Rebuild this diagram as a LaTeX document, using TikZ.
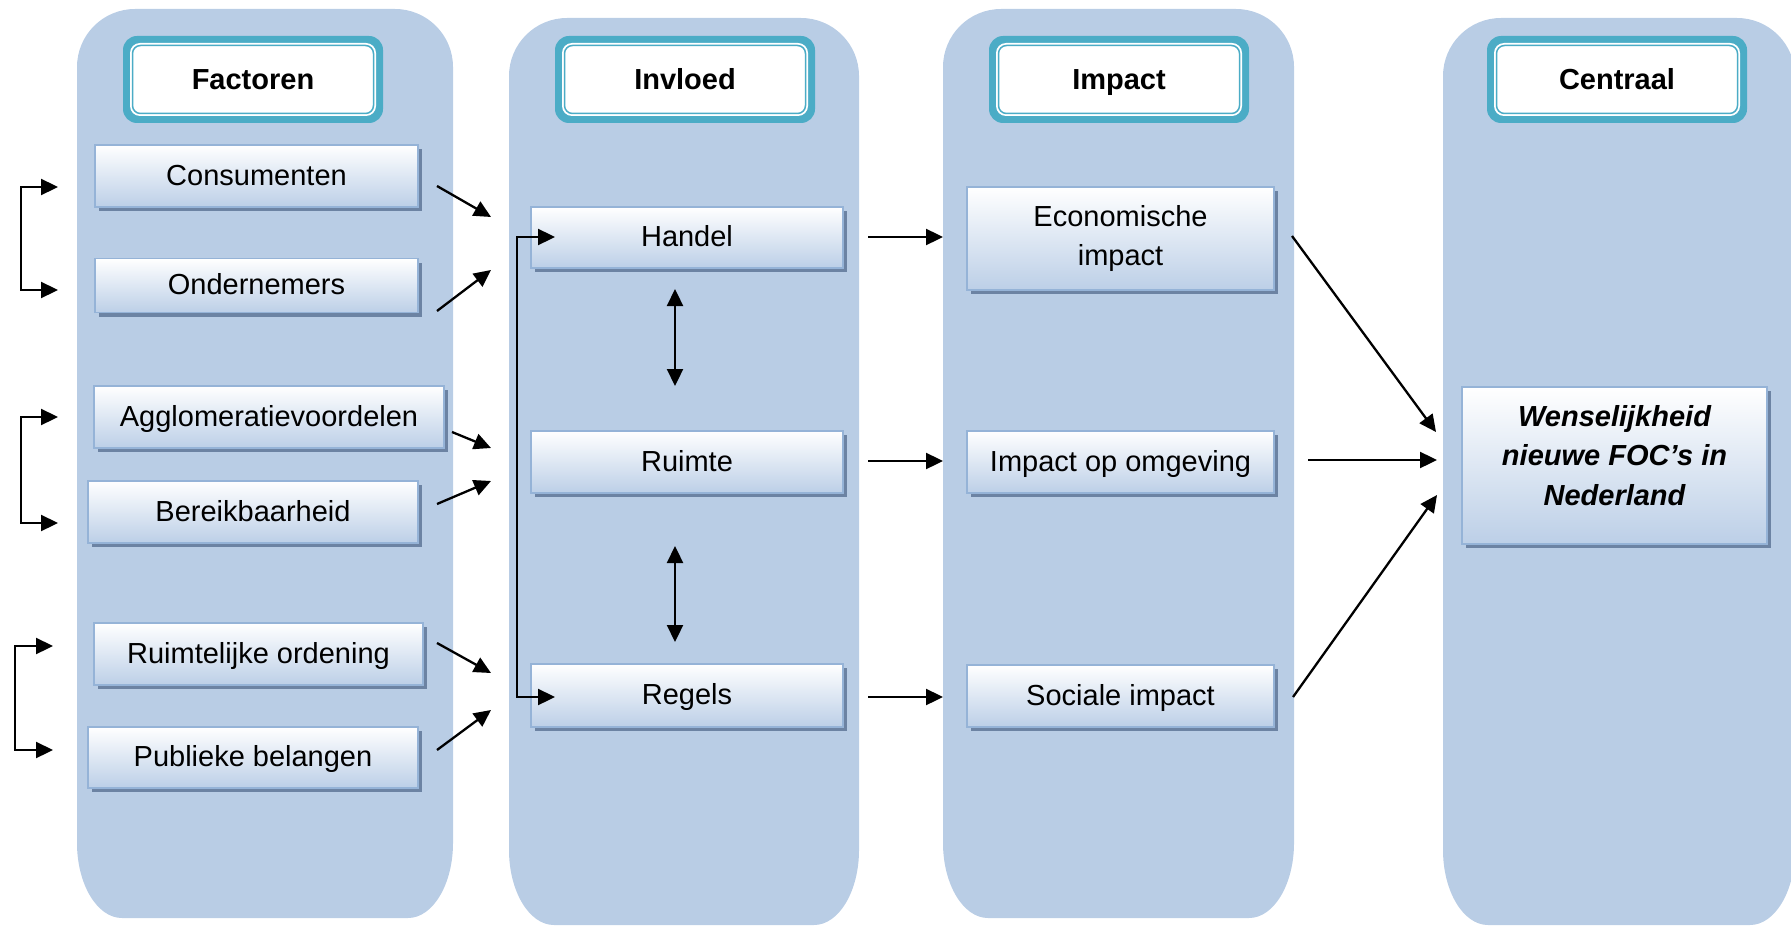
\documentclass[tikz,border=0pt]{standalone}
\usepackage{fontspec}
\setmainfont{Liberation Sans}
\usetikzlibrary{arrows.meta,shadows,calc}
\definecolor{colbg}{RGB}{185,205,229}
\definecolor{headteal}{RGB}{75,172,198}
\definecolor{boxborder}{RGB}{149,179,215}
\definecolor{boxbot}{RGB}{188,207,231}
\definecolor{shadowcol}{RGB}{108,131,163}
\newcommand\colshape[4]{%
 \fill[colbg] (#1,#2+58) .. controls (#1,#2+26) and (#1+26,#2) .. (#1+58,#2) -- (#3-58,#2)
   .. controls (#3-26,#2) and (#3,#2+26) .. (#3,#2+58) -- (#3,#4-75)
   .. controls (#3,#4-34) and (#3-20,#4) .. (#3-45,#4) -- (#1+45,#4)
   .. controls (#1+20,#4) and (#1,#4-34) .. (#1,#4-75) -- cycle;}
\newcommand\headerbox[3]{%
 \fill[headteal, rounded corners=7pt] (#2-130,36) rectangle (#2+130,123);
 \fill[white, rounded corners=5pt] (#2-123,43) rectangle (#2+123,116);
 \node[headbox] (#1) at (#2,79.5) {#3};}
\begin{document}
\begin{tikzpicture}[x=0.5pt,y=-0.5pt,
  txt/.style={font=\fontsize{14.5}{19.8}\selectfont},
  headbox/.style={font=\fontsize{14.5}{19.8}\selectfont\bfseries, rectangle, draw=headteal, line width=0.75pt,
     fill=white, rounded corners=4pt, minimum width=120.5pt, minimum height=34pt, inner sep=0pt,
     text height=10.5pt, text depth=0pt},
  bodybox/.style={txt, rectangle, draw=boxborder, line width=0.8pt, top color=white, bottom color=boxbot,
     drop shadow={shadow xshift=2pt, shadow yshift=-2pt, fill=shadowcol, opacity=1},
     inner sep=2pt, align=center},
  sbox/.style={bodybox, text height=10.5pt, text depth=1.5pt},
  conn/.style={line width=1.15pt, -{Triangle[length=8.5pt,width=8pt]}},
  dconn/.style={line width=1.15pt, {Triangle[length=8.5pt,width=8pt]}-{Triangle[length=8.5pt,width=8pt]}},
]
\useasboundingbox (0,0) rectangle (1791,925);

% columns
\colshape{77}{9}{453}{918}
\colshape{509}{18}{859}{925}
\colshape{943}{9}{1294}{918}
\colshape{1443}{18}{1795}{925}

% headers
\headerbox{hfac}{253}{Factoren}
\headerbox{hinv}{685}{Invloed}
\headerbox{himp}{1119}{Impact}
\headerbox{hcen}{1617}{Centraal}

% column 1
\node[sbox, minimum width=161.5pt, minimum height=31pt] (cons) at (256.5,176) {Consumenten};
\node[sbox, minimum width=161.5pt, minimum height=27pt] (ond) at (256.5,285.5) {Ondernemers};
\node[sbox, minimum width=175pt, minimum height=31pt] (agg) at (269,417) {Agglomeratievoordelen};
\node[sbox, minimum width=165pt, minimum height=31pt] (ber) at (253,512) {Bereikbaarheid};
\node[sbox, minimum width=164.5pt, minimum height=31pt] (ruo) at (258.5,654) {Ruimtelijke ordening};
\node[sbox, minimum width=165pt, minimum height=30.5pt] (pub) at (253,757.5) {Publieke belangen};

% column 2
\node[sbox, minimum width=156pt, minimum height=30.5pt] (han) at (687,237.5) {Handel};
\node[sbox, minimum width=156pt, minimum height=31pt] (rui) at (687,462) {Ruimte};
\node[sbox, minimum width=156pt, minimum height=31.5pt] (reg) at (687,695.5) {Regels};

% column 3
\node[bodybox, minimum width=153.5pt, minimum height=51.5pt] (eco) at (1120.5,238.5) {Economische\\impact};
\node[sbox, minimum width=153.5pt, minimum height=31pt] (omg) at (1120.5,462) {Impact op omgeving};
\node[sbox, minimum width=153.5pt, minimum height=31pt] (soc) at (1120.5,696) {Sociale impact};

% column 4
\node[bodybox, minimum width=152.5pt, minimum height=78.5pt] (wens) at (1614.5,465.5) {};
\node[txt, align=center, font=\fontsize{14.5}{19.8}\selectfont\bfseries\itshape] (wenst)
  at ([yshift=5pt]wens.center) {Wenselijkheid\\nieuwe FOC’s in\\Nederland};

% connector end points
\coordinate (b1a) at (58,187);  \coordinate (b1b) at (58,290);
\coordinate (b2a) at (58,417);  \coordinate (b2b) at (58,523);
\coordinate (b3a) at (53,646);  \coordinate (b3b) at (53,750);
\coordinate (s1) at (437,186);  \coordinate (t1) at (491,217);
\coordinate (s2) at (437,311);  \coordinate (t2) at (491,270);
\coordinate (s3) at (452,432);  \coordinate (t3) at (491,448);
\coordinate (s4) at (437,504);  \coordinate (t4) at (491,481);
\coordinate (s5) at (437,643);  \coordinate (t5) at (491,673);
\coordinate (s6) at (437,750);  \coordinate (t6) at (491,710);
\coordinate (hh) at (555,237);  \coordinate (rr) at (555,697);
\coordinate (v1a) at (675,289); \coordinate (v1b) at (675,386);
\coordinate (v2a) at (675,546); \coordinate (v2b) at (675,642);
\coordinate (m1s) at (868,237); \coordinate (m1t) at (943,237);
\coordinate (m2s) at (868,461); \coordinate (m2t) at (943,461);
\coordinate (m3s) at (868,697); \coordinate (m3t) at (943,697);
\coordinate (e1s) at (1292,236); \coordinate (e1t) at (1436,432);
\coordinate (e2s) at (1308,460); \coordinate (e2t) at (1437,460);
\coordinate (e3s) at (1293,697); \coordinate (e3t) at (1437,495);

% brackets
\draw[dconn] (b1a) -- ++(-37,0) |- (b1b);
\draw[dconn] (b2a) -- ++(-37,0) |- (b2b);
\draw[dconn] (b3a) -- ++(-38,0) |- (b3b);
\draw[dconn] (hh) -- ++(-38,0) |- (rr);

% converging arrows
\draw[conn] (s1) -- (t1);
\draw[conn] (s2) -- (t2);
\draw[conn] (s3) -- (t3);
\draw[conn] (s4) -- (t4);
\draw[conn] (s5) -- (t5);
\draw[conn] (s6) -- (t6);

% vertical double arrows
\draw[dconn] (v1a) -- (v1b);
\draw[dconn] (v2a) -- (v2b);

% col2 -> col3
\draw[conn] (m1s) -- (m1t);
\draw[conn] (m2s) -- (m2t);
\draw[conn] (m3s) -- (m3t);

% col3 -> col4
\draw[conn] (e1s) -- (e1t);
\draw[conn] (e2s) -- (e2t);
\draw[conn] (e3s) -- (e3t);
\end{tikzpicture}
\end{document}
